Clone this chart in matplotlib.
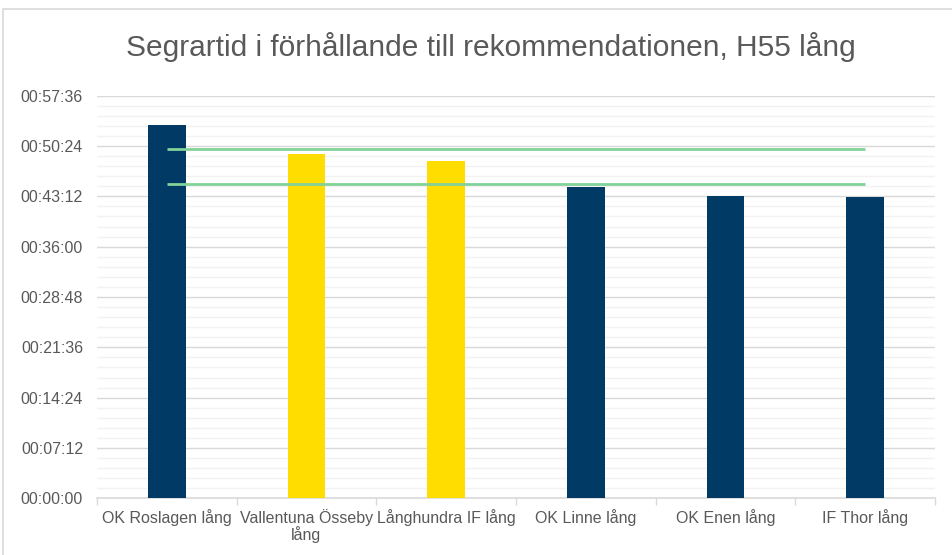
import matplotlib
matplotlib.use("Agg")
import matplotlib.pyplot as plt
from matplotlib.ticker import MultipleLocator, FuncFormatter, FixedLocator
from matplotlib.patches import Rectangle

plt.rcParams["font.family"] = ["Liberation Sans", "DejaVu Sans"]

# data (seconds)
kategorier = ["OK Roslagen lång", "Vallentuna Össeby\nlång", "Långhundra IF lång",
              "OK Linne lång", "OK Enen lång", "IF Thor lång"]
segrartid = [3202, 2953, 2893, 2672, 2595, 2586]
farger = ["#023A66", "#FFDD00", "#FFDD00", "#023A66", "#023A66", "#023A66"]
rek_max = [3000] * 6
rek_min = [2700] * 6

titel = "Segrartid i förhållande till rekommendationen, H55 lång"

def hms(s, pos=None):
    s = int(round(s))
    return f"{s // 3600:02d}:{(s % 3600) // 60:02d}:{s % 60:02d}"

fig = plt.figure(figsize=(9.53, 5.55), dpi=100)
fig.patches.append(Rectangle((3 / 953, -0.1), 1.2, (555 - 9) / 555 + 0.1,
                             transform=fig.transFigure, fill=False,
                             edgecolor="#D9D9D9", linewidth=1.2))

ax = fig.add_axes([97 / 953, (555 - 498.3) / 555, (935 - 97) / 953, (498.3 - 95.7) / 555])

x = list(range(len(kategorier)))
ax.bar(x, segrartid, width=0.27, color=farger, zorder=3)
ax.plot(x, rek_max, color="#82D29A", linewidth=2.0, zorder=4, solid_capstyle="butt")
ax.plot(x, rek_min, color="#82D29A", linewidth=2.0, zorder=4, solid_capstyle="butt")

ax.set_xlim(-0.5, len(kategorier) - 0.5)
ax.set_ylim(0, 3456)

ax.yaxis.set_major_locator(MultipleLocator(432))
ax.yaxis.set_minor_locator(MultipleLocator(86.4))
ax.yaxis.set_major_formatter(FuncFormatter(hms))
ax.grid(axis="y", which="major", color="#D9D9D9", linewidth=1.0, zorder=0)
ax.grid(axis="y", which="minor", color="#F2F2F2", linewidth=1.0, zorder=0)
ax.tick_params(axis="y", which="both", length=0, pad=10, labelsize=11.5, labelcolor="#595959")

ax.set_xticks(x)
ax.set_xticklabels(kategorier, fontsize=11.5, color="#595959", linespacing=0.95)
ax.xaxis.set_minor_locator(FixedLocator([i - 0.5 for i in range(len(kategorier) + 1)]))
ax.tick_params(axis="x", which="major", length=0, pad=8)
ax.tick_params(axis="x", which="minor", length=5, color="#D9D9D9", width=1.0)

for side in ["top", "right", "left"]:
    ax.spines[side].set_visible(False)
ax.spines["bottom"].set_color("#D9D9D9")
ax.spines["bottom"].set_linewidth(1.2)

fig.text(490.5 / 953, (555 - 47) / 555, titel, ha="center", va="center",
         fontsize=21.5, color="#595959")

fig.savefig("out.png", dpi=100)
